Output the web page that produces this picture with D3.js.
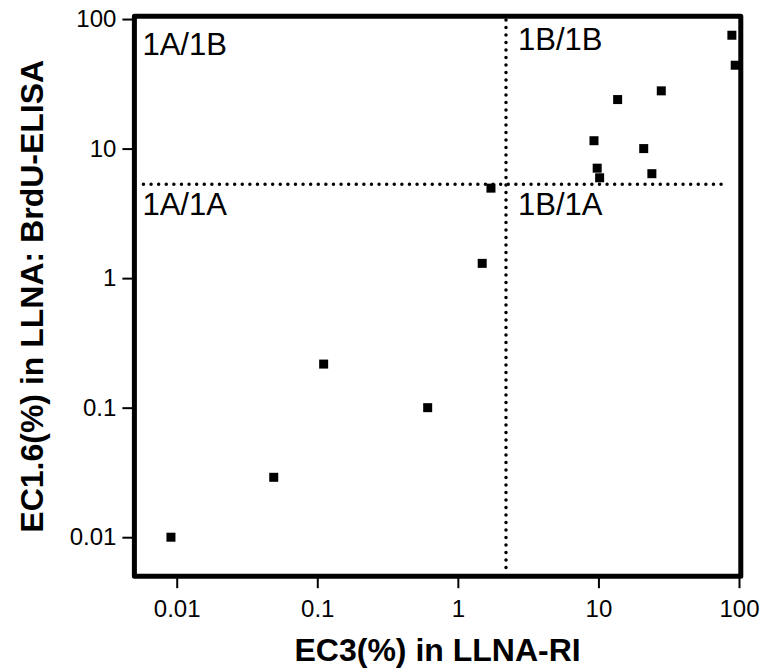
<!DOCTYPE html>
<html>
<head>
<meta charset="utf-8">
<script src="https://cdn.jsdelivr.net/npm/d3@7"></script>
<style>
  html, body { margin: 0; padding: 0; background: #fff; }
  svg text { font-family: "Liberation Sans", Arial, sans-serif; }
</style>
</head>
<body>
<div id="chart"></div>
<script>
const W = 765, H = 672;

// EC3 (LLNA-RI) vs EC1.6 (LLNA: BrdU-ELISA), both in %
const ec3 =  [0.0091, 0.049, 0.111, 0.61, 1.49, 1.72, 9.3, 9.8, 10.2, 13.7, 21, 24, 28, 89, 94];
const ec16 = [0.010, 0.029, 0.217, 0.100, 1.30, 4.95, 11.5, 7.06, 5.95, 23.9, 10.0, 6.4, 27.9, 75, 44];

const xTicks = [0.01, 0.1, 1, 10, 100];
const yTicks = [0.01, 0.1, 1, 10, 100];
const tickLabels = ["0.01", "0.1", "1", "10", "100"];

// category cut-offs
const cutX = 2.2;   // EC3
const cutY = 5.3;   // EC1.6
const cutYExtent = [0.0058, 80];

const quadrants = [
  { label: "1A/1B", side: "left",  row: "top" },
  { label: "1B/1B", side: "right", row: "top" },
  { label: "1A/1A", side: "left",  row: "bottom" },
  { label: "1B/1A", side: "right", row: "bottom" }
];

const x = d3.scaleLog().domain([0.005, 103]).range([134.4, 740.8]);
const y = d3.scaleLog().domain([0.005, 105]).range([576.2, 16.3]);

const svg = d3.select("#chart").append("svg")
    .attr("width", W).attr("height", H);

// axes (ticks + labels only, frame drawn separately)
const xAxis = svg.append("g")
    .attr("transform", `translate(0,${y(0.005)})`)
    .call(d3.axisBottom(x).tickValues(xTicks)
        .tickFormat((d, i) => tickLabels[i]).tickSize(12).tickPadding(12));
const yAxis = svg.append("g")
    .attr("transform", `translate(${x(0.005)},0)`)
    .call(d3.axisLeft(y).tickValues(yTicks)
        .tickFormat((d, i) => tickLabels[i]).tickSize(12).tickPadding(6));

[xAxis, yAxis].forEach(g => {
    g.select(".domain").remove();
    g.selectAll(".tick line").attr("stroke", "#000").attr("stroke-width", 2);
    g.selectAll(".tick text").attr("fill", "#000").attr("font-size", "24px")
        .style("font-family", "'Liberation Sans', Arial, sans-serif");
});

// dotted cut-off lines
svg.append("line")
    .attr("x1", x(cutYExtent[0])).attr("x2", x(cutYExtent[1]))
    .attr("y1", y(cutY)).attr("y2", y(cutY))
    .attr("stroke", "#000").attr("stroke-width", 3.5)
    .attr("stroke-linecap", "round").attr("stroke-dasharray", "0,7.6");
svg.append("line")
    .attr("x1", x(cutX)).attr("x2", x(cutX))
    .attr("y1", y(100) + 1).attr("y2", y(0.005) - 4)
    .attr("stroke", "#000").attr("stroke-width", 3.5)
    .attr("stroke-linecap", "round").attr("stroke-dasharray", "0,7.5");

// frame
svg.append("rect")
    .attr("x", x(0.005)).attr("y", y(105))
    .attr("width", x(103) - x(0.005))
    .attr("height", y(0.005) - y(105))
    .attr("fill", "none").attr("stroke", "#000")
    .attr("stroke-width", 5).attr("stroke-linejoin", "round");

// quadrant labels
svg.selectAll(".quad").data(quadrants).enter().append("text")
    .attr("class", "quad")
    .attr("x", d => d.side === "left" ? x(0.005) + 8 : x(cutX) + 12)
    .attr("y", d => d.row === "top" ? (d.side === "left" ? 55 : 50) : y(cutY) + 31)
    .attr("font-size", "31px")
    .attr("fill", "#000")
    .text(d => d.label);

// points
const sq = 9;
svg.selectAll(".pt").data(ec3).enter().append("rect")
    .attr("class", "pt")
    .attr("x", d => x(d) - sq / 2)
    .attr("y", (d, i) => y(ec16[i]) - sq / 2)
    .attr("width", sq).attr("height", sq)
    .attr("fill", "#000");

// axis titles
svg.append("text")
    .attr("x", (x(0.005) + x(103)) / 2).attr("y", 661)
    .attr("text-anchor", "middle")
    .attr("font-size", "32px").attr("font-weight", "bold")
    .text("EC3(%) in LLNA-RI");
svg.append("text")
    .attr("transform", `translate(43,${(y(0.005) + y(105)) / 2}) rotate(-90)`)
    .attr("text-anchor", "middle")
    .attr("font-size", "32px").attr("font-weight", "bold")
    .text("EC1.6(%) in LLNA: BrdU-ELISA");
</script>
</body>
</html>
